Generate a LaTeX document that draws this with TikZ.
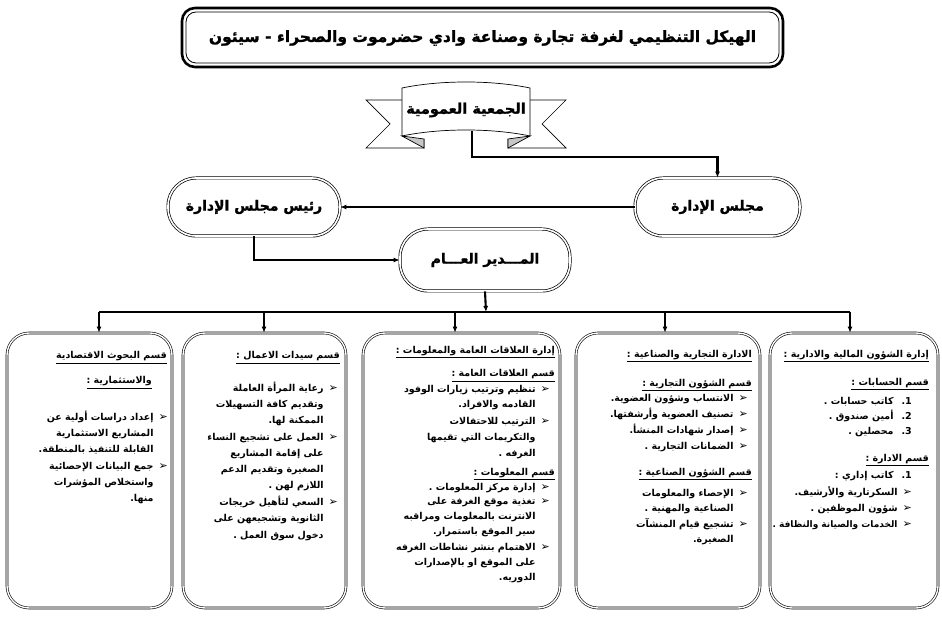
\documentclass[tikz,border=0pt]{standalone}
\usepackage{fontspec}
\usepackage{graphicx}
\usetikzlibrary{arrows.meta}
\TeXXeTstate=1
\newfontfamily\arf[Script=Arabic]{DejaVu Sans}
\newfontfamily\arh[Script=Arabic, FakeBold=1.4]{DejaVu Sans Bold}
\newfontfamily\symf{DejaVu Sans}
\newcommand\bul{{\symf\fontsize{11}{10}\selectfont ➢}}
\newcommand\Hd[4]{\node[ln] (#1) at (#2,#3) {\underline{#4}};}
\newcommand\Bl[4]{\node[ln] (#1) at (#2,#3) {#4\hspace{5pt}\bul};}
\newcommand\Cl[4]{\node[ln] (#1) at (#2,#3) {#4\hspace{5pt}\phantom{\bul}};}
\newcommand\Nl[5]{\node[ln] (#1) at (#2,#3) {#5\hspace{8pt}#4.};}
\tikzset{
  ln/.style={anchor=base east, inner sep=0pt, font=\arf\bfseries\fontsize{9.5}{11}\selectfont},
  stad/.style={draw, double=white, double distance=1.6pt, line width=0.7pt,
    rounded corners=28pt, font=\arh\fontsize{14}{16}\selectfont},
  box/.style={draw, double=white, double distance=1.4pt, line width=0.6pt, rounded corners=22pt},
  arr/.style={-{Latex[length=6pt,width=5pt]}, line width=2.1pt},
}
\begin{document}
\begin{tikzpicture}[x=1pt,y=-1pt]
\useasboundingbox (0,0) rectangle (942,617);
\fill[white] (0,0) rectangle (942,617);
% title
\draw[line width=2.6pt, rounded corners=13pt] (182,8) rectangle (783,67);
\draw[line width=0.8pt, rounded corners=10pt] (186,12) rectangle (779,63);
\node[font=\arh\fontsize{15.5}{18}\selectfont] (title) at (482.5,38)
  {\beginR الهيكل التنظيمي لغرفة تجارة وصناعة وادي حضرموت والصحراء - سيئون\endR};
% banner
\draw[line width=0.7pt, fill=white] (402,100) -- (366,100) -- (390,124) -- (366,148) -- (424,148) -- (424,139);
\draw[line width=0.7pt, fill=white] (530,100) -- (566,100) -- (542,124) -- (566,148) -- (508,148) -- (508,139);
\draw[line width=0.7pt, fill=gray!45] (402,136) -- (424,139) -- (424,148) -- cycle;
\draw[line width=0.7pt, fill=gray!45] (530,136) -- (508,139) -- (508,148) -- cycle;
\draw[line width=0.7pt, fill=white] (402,88) .. controls (440,80) and (492,80) .. (530,88)
   -- (530,136) .. controls (492,128) and (440,128) .. (402,136) -- cycle;
\node[font=\arh\fontsize{14.5}{16}\selectfont] (ga) at (466,110) {\beginR الجمعية العمومية\endR};
\coordinate (gab) at (472,131);
\coordinate (gaturn) at (472,157);
% level nodes
\node[stad, minimum width=165, minimum height=58] (majlis) at (717.5,207) {\beginR مجلس الإدارة\endR};
\node[stad, minimum width=172, minimum height=58] (rais) at (254,207) {\beginR رئيس مجلس الإدارة\endR};
\node[stad, minimum width=170, minimum height=62] (mudir) at (485,260) {\beginR المـــدير العـــام\endR};
\draw[arr] (gab) -- (gaturn) -| (majlis.north);
\draw[arr] (majlis.west) -- (rais.east);
\draw[arr] (rais.south) |- (mudir.west);
% bus
\coordinate (busc) at (486,312);
\coordinate (bus1) at (99,312);
\coordinate (bus2) at (264,312);
\coordinate (bus3) at (455,312);
\coordinate (bus4) at (665,312);
\coordinate (bus5) at (850,312);
\draw[arr] (mudir.south) -- (busc);
\draw[line width=2.8pt] (bus1) -- (bus5);
% boxes
\node[box, minimum width=165, minimum height=275] (b1) at (89.5,470.5) {};
\node[box, minimum width=163, minimum height=275] (b2) at (264.5,470.5) {};
\node[box, minimum width=197, minimum height=275] (b3) at (461.5,470.5) {};
\node[box, minimum width=184, minimum height=275] (b4) at (668,470.5) {};
\node[box, minimum width=168, minimum height=275] (b5) at (854,470.5) {};
\foreach \i in {1,...,5}{\draw[arr] (bus\i) -- (bus\i |- b\i.north);}
% box 5
\Hd{p1}{929}{357}{\beginR إدارة الشؤون المالية والادارية :\endR}
\Hd{p2}{929}{385}{\beginR قسم الحسابات :\endR}
\Nl{p3}{912}{404}{1}{\beginR كاتب حسابات .\endR}
\Nl{p4}{912}{419}{2}{\beginR أمين صندوق .\endR}
\Nl{p5}{912}{434}{3}{\beginR محصلين .\endR}
\Hd{p6}{929}{461}{\beginR قسم الادارة :\endR}
\Nl{p7}{912}{478}{1}{\beginR كاتب إداري :\endR}
\Bl{p8}{912}{495}{\beginR السكرتارية والأرشيف.\endR}
\Bl{p9}{912}{511}{\beginR شؤون الموظفين .\endR}
\Bl{p10}{912}{527}{{\fontsize{9}{10}\selectfont\beginR الخدمات والصيانة والنظافة .\endR}}
% box 4
\Hd{q1}{752}{357}{\beginR الادارة التجارية والصناعية :\endR}
\Hd{q2}{752}{386}{\beginR قسم الشؤون التجارية :\endR}
\Bl{q3}{748}{401}{\beginR الانتساب وشؤون العضوية.\endR}
\Bl{q4}{748}{417}{\beginR تصنيف العضوية وأرشفتها.\endR}
\Bl{q5}{748}{433}{\beginR إصدار شهادات المنشأ.\endR}
\Bl{q6}{748}{449}{\beginR الضمانات التجارية .\endR}
\Hd{q7}{752}{475}{\beginR قسم الشؤون الصناعية :\endR}
\Bl{q8}{748}{496}{\beginR الإحصاء والمعلومات\endR}
\Cl{q9}{748}{511}{\beginR الصناعية والمهنية .\endR}
\Bl{q10}{748}{527}{\beginR تشجيع قيام المنشآت\endR}
\Cl{q11}{748}{542}{\beginR الصغيرة.\endR}
% box 3
\Hd{r1}{555}{353}{\beginR إدارة العلاقات العامة والمعلومات :\endR}
\Hd{r2}{555}{377}{\beginR قسم العلاقات العامة :\endR}
\Bl{r3}{550}{392}{\beginR تنظيم وترتيب زيارات الوفود\endR}
\Cl{r4}{550}{407}{\beginR القادمه والافراد.\endR}
\Bl{r5}{550}{424}{\beginR الترتيب للاحتفالات\endR}
\Cl{r6}{550}{440}{\beginR والتكريمات التي تقيمها\endR}
\Cl{r7}{550}{456}{\beginR الغرفه .\endR}
\Hd{r8}{555}{475}{\beginR قسم المعلومات :\endR}
\Bl{r9}{550}{490}{\beginR إدارة مركز المعلومات .\endR}
\Bl{r10}{550}{504}{\beginR تغذية موقع الغرفة على\endR}
\Cl{r11}{550}{519}{\beginR الانترنت بالمعلومات ومراقبه\endR}
\Cl{r12}{550}{534}{\beginR سير الموقع باستمرار.\endR}
\Bl{r13}{550}{550}{\beginR الاهتمام بنشر نشاطات الغرفه\endR}
\Cl{r14}{550}{565}{\beginR على الموقع او بالإصدارات\endR}
\Cl{r15}{550}{580}{\beginR الدوريه.\endR}
% box 2
\Hd{s1}{340}{359}{\beginR قسم سيدات الاعمال :\endR}
\Bl{s2}{338}{391}{\beginR رعاية المرأة العاملة\endR}
\Cl{s3}{338}{407}{\beginR وتقديم كافة التسهيلات\endR}
\Cl{s4}{338}{423}{\beginR الممكنة لها.\endR}
\Bl{s5}{338}{440}{\beginR العمل على تشجيع النساء\endR}
\Cl{s6}{338}{456}{\beginR على إقامة المشاريع\endR}
\Cl{s7}{338}{472}{\beginR الصغيرة وتقديم الدعم\endR}
\Cl{s8}{338}{488}{\beginR اللازم لهن .\endR}
\Bl{s9}{338}{505}{\beginR السعي لتأهيل خريجات\endR}
\Cl{s10}{338}{521}{\beginR الثانوية وتشجيعهن على\endR}
\Cl{s11}{338}{538}{\beginR دخول سوق العمل .\endR}
% box 1
\Hd{t1}{167}{359}{\beginR قسم البحوث الاقتصادية\endR}
\Hd{t2}{152}{384}{\beginR والاستثمارية :\endR}
\Bl{t3}{168}{420}{\beginR إعداد دراسات أولية عن\endR}
\Cl{t4}{168}{436}{\beginR المشاريع الاستثمارية\endR}
\Cl{t5}{168}{452}{\beginR القابلة للتنفيذ بالمنطقة.\endR}
\Bl{t6}{168}{469}{\beginR جمع البيانات الإحصائية\endR}
\Cl{t7}{168}{485}{\beginR واستخلاص المؤشرات\endR}
\Cl{t8}{168}{501}{\beginR منها.\endR}
\end{tikzpicture}
\end{document}
